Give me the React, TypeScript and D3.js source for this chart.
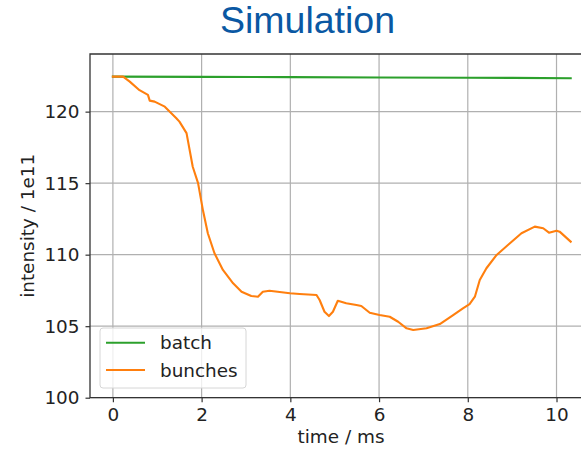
import React, { useEffect, useRef } from 'react';
import * as d3 from 'd3';

// time (ms) and intensity (1e11)
const batchTime = [0, 2, 4, 6, 8, 9, 10.32];
const batchIntensity = [122.45, 122.43, 122.41, 122.39, 122.37, 122.36, 122.33];

const bunchTime = [
  0, 0.23, 0.38, 0.6, 0.79, 0.83, 0.94, 1.17, 1.43, 1.5, 1.66, 1.8, 1.92, 2.03, 2.14, 2.29,
  2.48, 2.71, 2.9, 3.12, 3.27, 3.38, 3.53, 3.99, 4.21, 4.59, 4.66, 4.77, 4.87, 4.96, 5.07,
  5.26, 5.49, 5.6, 5.79, 6.01, 6.24, 6.43, 6.62, 6.77, 7.07, 7.37, 7.67, 7.89, 8.04, 8.16,
  8.27, 8.42, 8.65, 8.95, 9.21, 9.51, 9.7, 9.83, 10.0, 10.07, 10.32,
];
const bunchIntensity = [
  122.45, 122.45, 122.1, 121.5, 121.17, 120.77, 120.7, 120.35, 119.54, 119.3, 118.5, 116.15,
  115.0, 113.1, 111.5, 110.1, 108.93, 108.0, 107.41, 107.11, 107.06, 107.41, 107.48, 107.3,
  107.25, 107.18, 106.83, 106.01, 105.71, 106.01, 106.78, 106.6, 106.48, 106.41, 105.94,
  105.78, 105.66, 105.31, 104.85, 104.73, 104.85, 105.15, 105.78, 106.25, 106.55, 107.06,
  108.23, 109.05, 109.98, 110.8, 111.5, 111.96, 111.85, 111.54, 111.68, 111.61, 110.91,
];

const xTicks = [0, 2, 4, 6, 8, 10];
const yTicks = [100, 105, 110, 115, 120];
const seriesNames = ['batch', 'bunches'];
const seriesColors = ['#2ca02c', '#ff7f0e'];

function App() {
  const ref = useRef(null);

  useEffect(() => {
    const svg = d3.select(ref.current);
    svg.selectAll('*').remove();

    const width = 581;
    const height = 449;
    const left = 90, top = 54, bottom = 397.7, right = 593.6;
    const font = 'DejaVu Sans, sans-serif';
    const fs = '18.4px';

    const x = d3.scaleLinear().domain([-0.516, 10.836]).range([left, right]);
    const y = d3.scaleLinear().domain([100, 124.03]).range([bottom, top]);

    svg.attr('width', width).attr('height', height);

    // title
    svg.append('text')
      .attr('x', 307.5).attr('y', 33)
      .attr('text-anchor', 'middle')
      .style('font-family', 'Liberation Sans, Arial, sans-serif')
      .style('font-size', '37.5px')
      .attr('fill', '#0a58a3')
      .text('Simulation');

    // grid
    svg.append('g').selectAll('line').data(xTicks).enter().append('line')
      .attr('x1', d => x(d)).attr('x2', d => x(d))
      .attr('y1', top).attr('y2', bottom)
      .attr('stroke', '#b0b0b0').attr('stroke-width', 1.2);
    svg.append('g').selectAll('line').data(yTicks).enter().append('line')
      .attr('x1', left).attr('x2', right)
      .attr('y1', d => y(d)).attr('y2', d => y(d))
      .attr('stroke', '#b0b0b0').attr('stroke-width', 1.2);

    // lines
    const line = d3.line().x(d => x(d[0])).y(d => y(d[1]));
    const series = [
      d3.zip(batchTime, batchIntensity),
      d3.zip(bunchTime, bunchIntensity),
    ];
    series.forEach((pts, i) => {
      svg.append('path')
        .attr('d', line(pts))
        .attr('fill', 'none')
        .attr('stroke', seriesColors[i])
        .attr('stroke-width', 2.1)
        .attr('stroke-linejoin', 'round')
        .attr('stroke-linecap', 'square');
    });

    // spines
    svg.append('path')
      .attr('d', `M${right},${top}H${left}V${bottom}H${right}`)
      .attr('fill', 'none')
      .attr('stroke', '#333')
      .attr('stroke-width', 1.3);

    // axes
    const xAxis = svg.append('g').attr('transform', `translate(0,${bottom})`)
      .call(d3.axisBottom(x).tickValues(xTicks).tickSize(4.5).tickPadding(6).tickFormat(d3.format('d')));
    xAxis.select('.domain').remove();
    const yAxis = svg.append('g').attr('transform', `translate(${left},0)`)
      .call(d3.axisLeft(y).tickValues(yTicks).tickSize(4.5).tickPadding(6).tickFormat(d3.format('d')));
    yAxis.select('.domain').remove();
    [xAxis, yAxis].forEach(a => {
      a.selectAll('line').attr('stroke', '#333').attr('stroke-width', 1.2);
      a.selectAll('text').style('font-family', font).style('font-size', fs).attr('fill', '#222');
    });

    svg.append('text')
      .attr('x', 341).attr('y', 443)
      .attr('text-anchor', 'middle')
      .style('font-family', font).style('font-size', fs).attr('fill', '#222')
      .text('time / ms');
    svg.append('text')
      .attr('transform', `translate(34,${(top + bottom) / 2}) rotate(-90)`)
      .attr('text-anchor', 'middle')
      .style('font-family', font).style('font-size', fs).attr('fill', '#222')
      .text('intensity / 1e11');

    // legend
    const legend = svg.append('g');
    legend.append('rect')
      .attr('x', 100).attr('y', 328).attr('width', 146).attr('height', 60)
      .attr('rx', 3)
      .attr('fill', 'white').attr('fill-opacity', 0.8)
      .attr('stroke', '#d6d6d6');
    seriesNames.forEach((name, i) => {
      const ly = 342.7 + i * 27.3;
      legend.append('line')
        .attr('x1', 106).attr('x2', 145).attr('y1', ly).attr('y2', ly)
        .attr('stroke', seriesColors[i]).attr('stroke-width', 2.1);
      legend.append('text')
        .attr('x', 160).attr('y', ly + 6.5)
        .style('font-family', font).style('font-size', fs).attr('fill', '#222')
        .text(name);
    });
  }, []);

  return <svg ref={ref} style={{ position: 'absolute', left: 0, top: 0 }}></svg>;
}

export default App;
